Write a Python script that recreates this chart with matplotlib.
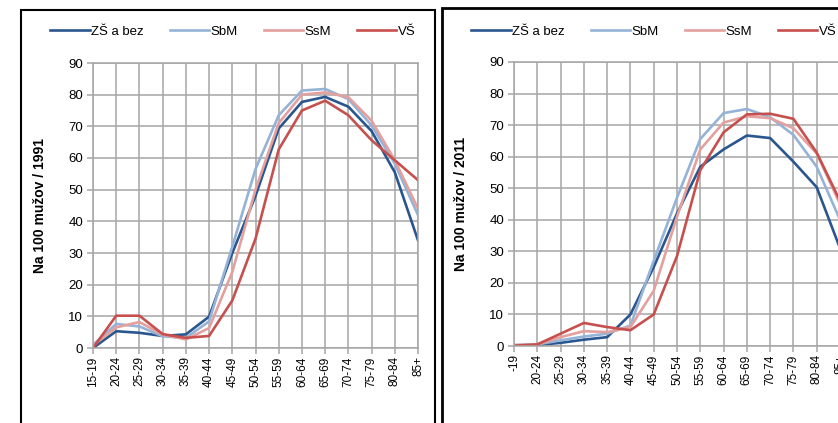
import matplotlib.pyplot as plt
from matplotlib.patches import Rectangle

plt.rcParams['font.family'] = ['Liberation Sans', 'DejaVu Sans']

# age groups
ages_1991 = ['15-19', '20-24', '25-29', '30-34', '35-39', '40-44', '45-49', '50-54',
             '55-59', '60-64', '65-69', '70-74', '75-79', '80-84', '85+']
ages_2011 = ['-19', '20-24', '25-29', '30-34', '35-39', '40-44', '45-49', '50-54',
             '55-59', '60-64', '65-69', '70-74', '75-79', '80-84', '85+']

series_names = ['ZŠ a bez', 'SbM', 'SsM', 'VŠ']
colors = ['#2A568F', '#95B3D7', '#E3A09F', '#C6504D']

# 1991
zs_1991 = [0, 5.3, 4.8, 3.8, 4.3, 9.9, 30, 48, 69.3, 77.7, 79.3, 76.2, 68.5, 55.5, 34]
sbm_1991 = [1.0, 7.6, 6.8, 3.7, 3.2, 8.4, 32, 56.5, 73.5, 81.3, 81.8, 78.6, 70.3, 58.2, 42]
ssm_1991 = [0.8, 6.5, 8.2, 4.2, 2.7, 6.3, 24, 50, 71, 80, 80.7, 79.2, 71.8, 59.3, 44]
vs_1991 = [0, 10.2, 10.2, 4.4, 3.2, 3.8, 15, 34.5, 62.7, 75, 78.1, 73.5, 65.6, 59.3, 53]

# 2011
zs_2011 = [0.1, 0.3, 1.0, 2.0, 2.8, 10, 25, 42, 56.8, 62.3, 66.7, 65.9, 58.4, 50.3, 31]
sbm_2011 = [0.3, 0.5, 1.8, 3.0, 3.9, 6.5, 27, 47, 65.6, 73.8, 75.1, 72.5, 66.9, 56.8, 40]
ssm_2011 = [0.3, 0.5, 2.8, 4.7, 4.4, 6.0, 17.5, 41, 62.3, 70.8, 72.8, 72.2, 69, 61, 45]
vs_2011 = [0.1, 0.5, 3.9, 7.3, 6.0, 5.0, 10, 28.5, 55.7, 67.7, 73.4, 73.6, 72, 61.3, 46]

panels = [
    (ages_1991, [zs_1991, sbm_1991, ssm_1991, vs_1991], 'Na 100 mužov / 1991',
     [93 / 838, 75 / 423, 325 / 838, 285 / 423], 233),
    (ages_2011, [zs_2011, sbm_2011, ssm_2011, vs_2011], 'Na 100 mužov / 2011',
     [514 / 838, 77 / 423, 326 / 838, 284 / 423], 654),
]

fig = plt.figure(figsize=(8.38, 4.23), dpi=100)

# chart borders
fig.patches.append(Rectangle((21 / 838, -0.05), 414 / 838, (413 + 21) / 423,
                             transform=fig.transFigure, fill=False,
                             edgecolor='black', linewidth=1.5))
fig.patches.append(Rectangle((442 / 838, -0.05), 0.6, (415 + 21) / 423,
                             transform=fig.transFigure, fill=False,
                             edgecolor='black', linewidth=2))

grid_color = '#A6A6A6'
for labels, data, ylab, pos, leg_x in panels:
    ax = fig.add_axes(pos)
    x = list(range(len(labels)))
    for name, vals, c in zip(series_names, data, colors):
        ax.plot(x, vals, color=c, linewidth=1.9, label=name, solid_joinstyle='round')
    ax.set_xlim(0, len(labels) - 1)
    ax.set_ylim(0, 90)
    ax.set_yticks(range(0, 91, 10))
    ax.set_xticks(x)
    ax.set_xticklabels(labels, rotation=90, fontsize=8.5)
    ax.tick_params(axis='y', labelsize=9.5, length=4, color=grid_color, width=1.1, pad=3)
    ax.tick_params(axis='x', length=4, color=grid_color, width=1.1, pad=2)
    ax.grid(True, color=grid_color, linewidth=1.1)
    ax.set_axisbelow(True)
    for s in ax.spines.values():
        s.set_color(grid_color)
        s.set_linewidth(1.1)
    ax.set_ylabel(ylab, fontsize=10, fontweight='bold')
    ax.yaxis.set_label_coords(-0.1415, 0.5)
    ax.legend(loc='center', bbox_to_anchor=(leg_x / 838, 391 / 423),
              bbox_transform=fig.transFigure, ncol=4, frameon=False,
              fontsize=9.5, handlelength=3.0, handletextpad=0.1, columnspacing=1.95)

fig.savefig('out.png', dpi=100)
